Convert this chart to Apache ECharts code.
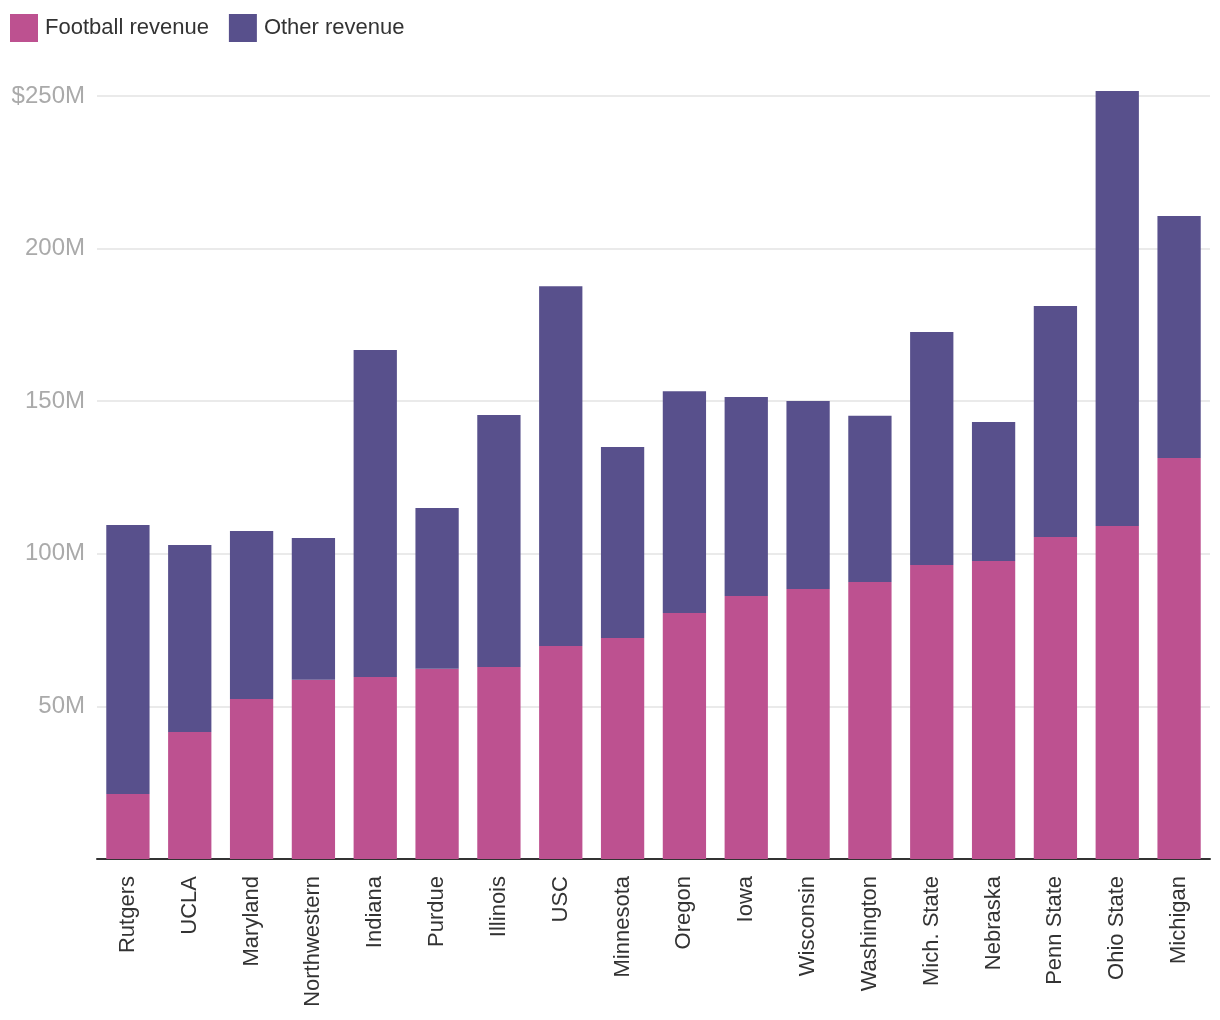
<!DOCTYPE html>
<html>
<head>
<meta charset="utf-8">
<script src="https://cdn.jsdelivr.net/npm/echarts@6/dist/echarts.min.js"></script>
<style>
html,body{margin:0;padding:0;background:#fff;}
#chart{width:1220px;height:1020px;}
</style>
</head>
<body>
<div id="chart"></div>
<script>
const categories = ["Rutgers","UCLA","Maryland","Northwestern","Indiana","Purdue","Illinois","USC","Minnesota","Oregon","Iowa","Wisconsin","Washington","Mich. State","Nebraska","Penn State","Ohio State","Michigan"];
const footballRevenue = [21.3,41.6,52.4,58.7,59.6,62.3,62.9,69.8,72.4,80.6,86.2,88.5,90.8,96.3,97.6,105.5,109.1,131.4];
const otherRevenue = [88.1,61.3,55.1,46.5,107.2,52.7,82.6,117.9,62.6,72.7,65.2,61.6,54.4,76.4,45.6,75.7,142.5,79.3];
const yTicks = [0,50,100,150,200,250];

const chart = echarts.init(document.getElementById('chart'));
const font = '"Liberation Sans", Arial, sans-serif';
chart.setOption({
  animation: false,
  textStyle: {fontFamily: font},
  legend: {
    left: 10, top: 14, padding: 0, itemWidth: 28, itemHeight: 28, itemGap: 20,
    icon: 'rect',
    textStyle: {fontSize: 22, color: '#333', fontFamily: font, padding: [0, 0, 0, 2]},
    data: ['Football revenue','Other revenue']
  },
  grid: {left: 97, right: 10, top: 96, bottom: 161},
  xAxis: {
    type: 'category', data: categories,
    axisLine: {lineStyle: {color: '#333', width: 2}},
    axisTick: {show: false},
    axisLabel: {rotate: 90, fontSize: 22, color: '#333', margin: 17, interval: 0, fontFamily: font}
  },
  yAxis: {
    type: 'value', min: yTicks[0], max: yTicks[yTicks.length-1], interval: 50,
    axisLine: {show: false}, axisTick: {show: false},
    splitLine: {lineStyle: {color: '#e3e3e3', width: 1.5}},
    axisLabel: {
      fontSize: 24, color: '#aaa', margin: 12, fontFamily: font,
      formatter: v => v === 0 ? '' : (v === 250 ? '$' + v + 'M' : v + 'M')
    }
  },
  series: [
    {name: 'Football revenue', type: 'bar', stack: 'r', data: footballRevenue, barCategoryGap: '30%', itemStyle: {color: '#bd5190'}, clip: false},
    {name: 'Other revenue', type: 'bar', stack: 'r', data: otherRevenue, barCategoryGap: '30%', itemStyle: {color: '#58508c'}, clip: false}
  ]
});
</script>
</body>
</html>
